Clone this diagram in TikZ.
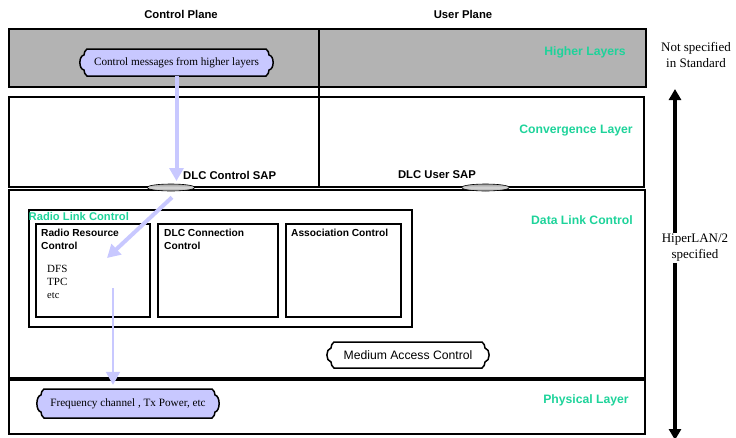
\documentclass[tikz,border=0pt]{standalone}
\usepackage{fontspec}
\setmainfont{Liberation Serif}
\setsansfont{Liberation Sans}
\usetikzlibrary{arrows.meta,shapes.geometric,calc}

\definecolor{layergreen}{HTML}{1ED39A}
\definecolor{lav}{HTML}{C8C8FF}
\definecolor{hlgray}{HTML}{B3B3B3}

\newcommand\fsz[2]{\fontsize{#1}{#2}\selectfont}

% scroll-like outline between two corner coordinates: #1 options, #2 north west, #3 south east
\newcommand\scrollshape[3]{%
  \path[#1] let \p1=(#2), \p2=(#3) in
    (\x1+7pt,\y1) -- (\x2-7pt,\y1)
    .. controls (\x2-5pt,\y1-1pt) and (\x2-4pt,\y1-4pt) .. (\x2-4pt,\y1-6pt)
    .. controls (\x2+1.5pt,\y1-7pt) and (\x2+1.5pt,\y2+7pt) .. (\x2-4pt,\y2+6pt)
    .. controls (\x2-4pt,\y2+4pt) and (\x2-5pt,\y2+1pt) .. (\x2-7pt,\y2)
    -- (\x1+7pt,\y2)
    .. controls (\x1+5pt,\y2+1pt) and (\x1+4pt,\y2+4pt) .. (\x1+4pt,\y2+6pt)
    .. controls (\x1-1.5pt,\y2+7pt) and (\x1-1.5pt,\y1-7pt) .. (\x1+4pt,\y1-6pt)
    .. controls (\x1+4pt,\y1-4pt) and (\x1+5pt,\y1-1pt) .. cycle;}

\begin{document}
\begin{tikzpicture}[x=1pt,y=-1pt,
  layerbox/.style={draw, line width=2pt, inner sep=0, anchor=north west},
  subbox/.style={draw, line width=1.8pt, inner sep=0, anchor=north west},
  layername/.style={text=layergreen, font=\sffamily\bfseries\fsz{12.2}{14}, inner sep=0},
  planename/.style={font=\sffamily\bfseries\fsz{11.3}{13}, inner sep=0},
  sapname/.style={font=\sffamily\bfseries\fsz{11.3}{13}, inner sep=0},
  boxlabel/.style={font=\sffamily\bfseries\fsz{10.2}{12.5}, align=left, anchor=north west, inner sep=0},
  note/.style={font=\fsz{13}{16}, align=center, inner sep=1pt},
  sap/.style={ellipse, draw, line width=0.6pt, minimum width=48, minimum height=7, inner sep=0,
    top color=gray!75, bottom color=gray!75, middle color=gray!30},
  flow/.style={draw=lav, line width=4pt, -{Triangle[width=14pt,length=13pt]}, color=lav},
  flowthin/.style={draw=lav, line width=2pt, -{Triangle[width=14pt,length=13pt]}, color=lav},
  spec/.style={line width=3.5pt, -{Triangle[width=12pt,length=11pt]}},
  msgtext/.style={font=\fsz{11.2}{13}, inner sep=0},
]
\useasboundingbox (0,0) rectangle (736,437);

% plane titles
\node[planename] (cp) at (181,14) {Control Plane};
\node[planename] (up) at (463,14) {User Plane};

% protocol layers
\node[layerbox, fill=hlgray, minimum width=637, minimum height=58] (hl) at (8,28) {};
\node[layerbox, minimum width=635, minimum height=90] (cl) at (8,96) {};
\node[layerbox, minimum width=636, minimum height=188] (dlc) at (8,189) {};
\node[layerbox, minimum width=636, minimum height=56] (phy) at (8,377) {};
\draw[line width=4pt] (dlc.south west) -- (dlc.south east);
\draw[line width=2pt] (319,28) -- (319,186);

\node[layername] (hlname) at (585,52) {Higher Layers};
\node[layername] (clname) at (576,131) {Convergence Layer};
\node[layername] (dlcname) at (582,220) {Data Link Control};
\node[layername] (phyname) at (586,400) {Physical Layer};

% control messages bubble
\coordinate (cmNW) at (80,49);
\coordinate (cmSE) at (273,76);
\scrollshape{draw, line width=1.5pt, fill=lav}{cmNW}{cmSE}
\node[msgtext, minimum width=193, minimum height=27] (cm) at ($(cmNW)!0.5!(cmSE)$) {Control messages from higher layers};

% service access points
\node[sap] (csap) at (171,187.5) {};
\node[sap] (usap) at (485.5,187.5) {};
\node[sapname, anchor=west] (csapname) at (183,175) {DLC Control SAP};
\node[sapname] (usapname) at (437,175) {DLC User SAP};

% radio link control
\node[subbox, minimum width=383, minimum height=117] (rlc) at (28,209) {};
\node[font=\sffamily\bfseries\fsz{11.2}{13}, text=layergreen, anchor=west, inner sep=0] (rlcname) at (28.5,216) {Radio Link Control};
\node[subbox, minimum width=114, minimum height=93] (rrc) at (35,223) {};
\node[subbox, minimum width=120, minimum height=93] (dcc) at (157,223) {};
\node[subbox, minimum width=115, minimum height=93] (ac) at (285,223) {};
\node[boxlabel] (rrcname) at (41,229) {Radio Resource\\Control};
\node[boxlabel] (dccname) at (164,229) {DLC Connection\\Control};
\node[boxlabel] (acname) at (291,229) {Association Control};
\node[font=\fsz{11}{13}, align=left, anchor=north west, inner sep=0] (rrcfun) at (47,265) {DFS\\TPC\\{\fsz{10.5}{13}etc}};

% medium access control
\coordinate (macNW) at (327,342);
\coordinate (macSE) at (489,368);
\scrollshape{draw, line width=1.5pt, fill=white}{macNW}{macSE}
\node[font=\sffamily\fsz{12.2}{14}, inner sep=0] (mac) at ($(macNW)!0.5!(macSE)$) {Medium Access Control};

% physical parameters bubble
\coordinate (fcNW) at (37,389);
\coordinate (fcSE) at (219,418);
\scrollshape{draw, line width=1.5pt, fill=lav}{fcNW}{fcSE}
\node[msgtext, minimum width=182, minimum height=29] (fc) at ($(fcNW)!0.5!(fcSE)$) {Frequency channel , Tx Power, etc};

% control flow
\coordinate (sapTop) at (176.5,181);
\coordinate (rrcIn) at (107,258);
\coordinate (rrcOut) at (113,288);
\draw[flow] (cm.south) -- (sapTop);
\draw[flow] ($(csap.south)+(1,6)$) -- (rrcIn);
\draw[flowthin] (rrcOut) -- ($(rrcOut |- fc.north)+(0,-4)$);

% scope of the standard
\coordinate (specTop) at (675,89);
\coordinate (specBot) at (675,440);
\node[note] (notspec) at (696,55) {Not specified\\in Standard};
\node[note] (hiper) at (695,248) {HiperLAN/2\\specified};
\draw[spec] (hiper.north -| specTop) -- (specTop);
\draw[spec] (hiper.south -| specBot) -- (specBot);
\end{tikzpicture}
\end{document}
